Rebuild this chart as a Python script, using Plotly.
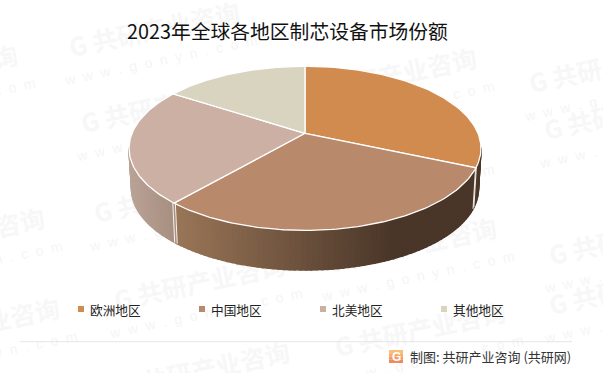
import numpy as np
import plotly.graph_objects as go

categories = ["欧洲地区", "中国地区", "北美地区", "其他地区"]
shares = [31.6, 29.7, 22.9, 15.8]
top_colors = ["#D18B4E", "#B9896B", "#CDB0A4", "#D9D4C0"]
side_left = ["#50392A", "#9A7658", "#B9A296", "#D9D4C0"]
side_right = ["#4A3628", "#4A3628", "#A68E80", "#D9D4C0"]

title = "2023年全球各地区制芯设备市场份额"
footer = "制图: 共研产业咨询 (共研网)"
CJK = "Noto Sans CJK SC"

W, H = 603, 373
CX, CY, A, B, K = 305.0, 133.3, 173.0, 79.3, -0.183
CY2, A2, B2 = 174.0, 170.5, 78.4
SIDE_FROM, SIDE_TO = 100.0, 260.0


def project(deg, r=1.0, lower=False):
    t = np.radians(np.asarray(deg, dtype=float))
    u, v = r * np.sin(t), -r * np.cos(t)
    d = 1 + K * v
    if lower:
        return CX + A2 * u / d, CY2 + B2 * v / d
    return CX + A * u / d, CY + B * v / d


def mix(c1, c2, f):
    f = min(max(f, 0), 1)
    a = [int(c1[i:i + 2], 16) for i in (1, 3, 5)]
    b = [int(c2[i:i + 2], 16) for i in (1, 3, 5)]
    return "rgb(%d,%d,%d)" % tuple(round(p + (q - p) * f) for p, q in zip(a, b))


fig = go.Figure()
edges = np.concatenate([[0], np.cumsum(shares)]) * 360 / sum(shares)

# sides, drawn as many thin quads to give the horizontal gradient
for i in range(len(shares)):
    a0, a1 = max(edges[i], SIDE_FROM), min(edges[i + 1], SIDE_TO)
    if a0 >= a1:
        continue
    steps = np.arange(a0, a1 + 1.5, 1.5)
    steps[-1] = a1
    steps = steps[steps <= a1]
    x_ends = [project(a0)[0], project(a1)[0]]
    lo, hi = min(x_ends), max(x_ends)
    for s, e in zip(steps[:-1], steps[1:]):
        xt0, yt0 = project(s)
        xt1, yt1 = project(e)
        xb0, yb0 = project(s, lower=True)
        xb1, yb1 = project(e, lower=True)
        mid = (xt0 + xt1) / 2
        span = (hi - lo) * (0.72 if i == 1 else 1.0)
        f = (mid - lo) / max(span, 1e-6)
        col = mix(side_left[i], side_right[i], f)
        fig.add_trace(go.Scatter(
            x=[xt0, xt1, xb1, xb0, xt0], y=[yt0, yt1, yb1, yb0, yt0],
            mode="lines", fill="toself", fillcolor=col,
            line=dict(color=col, width=1.6),
            hoverinfo="skip", showlegend=False))

# white seams between side walls
for edge in edges[1:-1]:
    if SIDE_FROM < edge < SIDE_TO:
        for off in (-0.55, 0.55):
            xt, yt = project(edge + off)
            xb, yb = project(edge + off, lower=True)
            fig.add_trace(go.Scatter(
                x=[xt, xb], y=[yt, yb], mode="lines",
                line=dict(color="white", width=0.9),
                hoverinfo="skip", showlegend=False))

# top face
for i, cat in enumerate(categories):
    arc = np.linspace(edges[i], edges[i + 1], 90)
    xs, ys = project(arc)
    fig.add_trace(go.Scatter(
        x=np.r_[CX, xs, CX], y=np.r_[CY, ys, CY],
        mode="lines", fill="toself", fillcolor=top_colors[i],
        line=dict(color="white", width=1.3),
        name=cat, hoverinfo="name", showlegend=False))

# legend
legend_x = [81 + 121 * i for i in range(len(categories))]
annotations = []
for i, cat in enumerate(categories):
    fig.add_trace(go.Scatter(
        x=[legend_x[i]], y=[309], mode="markers",
        marker=dict(symbol="square", size=6, color=top_colors[i]),
        hoverinfo="skip", showlegend=False))
    annotations.append(dict(
        x=legend_x[i] + 7, y=309, xref="x", yref="y", xanchor="left", yanchor="middle",
        text=cat, showarrow=False, font=dict(family=CJK, size=12.7, color="#222222")))

annotations.append(dict(
    x=287.5, y=30, xref="x", yref="y", xanchor="center", yanchor="middle",
    text=title, showarrow=False, font=dict(family=CJK, size=19.8, color="#111111")))
annotations.append(dict(
    x=573, y=356, xref="x", yref="y", xanchor="right", yanchor="middle",
    text=footer, showarrow=False, font=dict(family=CJK, size=13, color="#333333")))
annotations.append(dict(
    x=396, y=356.5, xref="x", yref="y", xanchor="center", yanchor="middle",
    text="<b>G</b>", showarrow=False, font=dict(family="Liberation Sans", size=12, color="white")))

# watermarks, beneath everything
wm_anchor = [(155, 32), (-67, 75), (392, 78), (167, 108), (615, 68), (630, 115),
             (-40, 238), (180, 198), (392, 161), (412, 248), (-25, 328), (200, 285),
             (205, 372), (421, 332), (635, 290), (635, 240), (640, 380)]
shapes = []
for (cx_, cy_) in wm_anchor:
    shapes.append(dict(
        type="rect", xref="x", yref="y", x0=cx_ - 100, x1=cx_ + 100, y0=cy_ - 20, y1=cy_ + 20,
        layer="below", line=dict(width=0), fillcolor="rgba(0,0,0,0)",
        label=dict(text="<b>G 共研产业咨询</b>", textangle=-12, textposition="middle center",
                   font=dict(family=CJK, size=25, color="#F7F7F7"))))
    shapes.append(dict(
        type="rect", xref="x", yref="y", x0=cx_ - 100 + 6, x1=cx_ + 100 + 6, y0=cy_ + 7, y1=cy_ + 47,
        layer="below", line=dict(width=0), fillcolor="rgba(0,0,0,0)",
        label=dict(text="w  w  w  .  g  o  n  y  n  .  c  o  m", textangle=-12,
                   textposition="middle center",
                   font=dict(family="Liberation Sans", size=14, color="#F5F5F5"))))

# footer rule and logo
shapes.append(dict(type="line", xref="x", yref="y", x0=20, x1=572, y0=341.7, y1=341.7,
                   line=dict(color="#E6E6E6", width=1), layer="below"))
for k, col in enumerate(["#F9BE76", "#F7AC68", "#F4985F", "#F08A5D"]):
    shapes.append(dict(type="rect", xref="x", yref="y", x0=389, x1=403,
                       y0=350 + k * 3.25, y1=350 + (k + 1) * 3.25,
                       fillcolor=col, line=dict(width=0), layer="below"))

fig.update_layout(
    width=W, height=H, margin=dict(l=0, r=0, t=0, b=0),
    paper_bgcolor="white", plot_bgcolor="white", showlegend=False,
    xaxis=dict(range=[0, W], visible=False, fixedrange=True),
    yaxis=dict(range=[H, 0], visible=False, fixedrange=True),
    annotations=annotations, shapes=shapes,
)
fig.write_html("out.html", config=dict(displayModeBar=False),
               post_script="document.body.style.margin='0';document.documentElement.style.overflow='hidden';")
